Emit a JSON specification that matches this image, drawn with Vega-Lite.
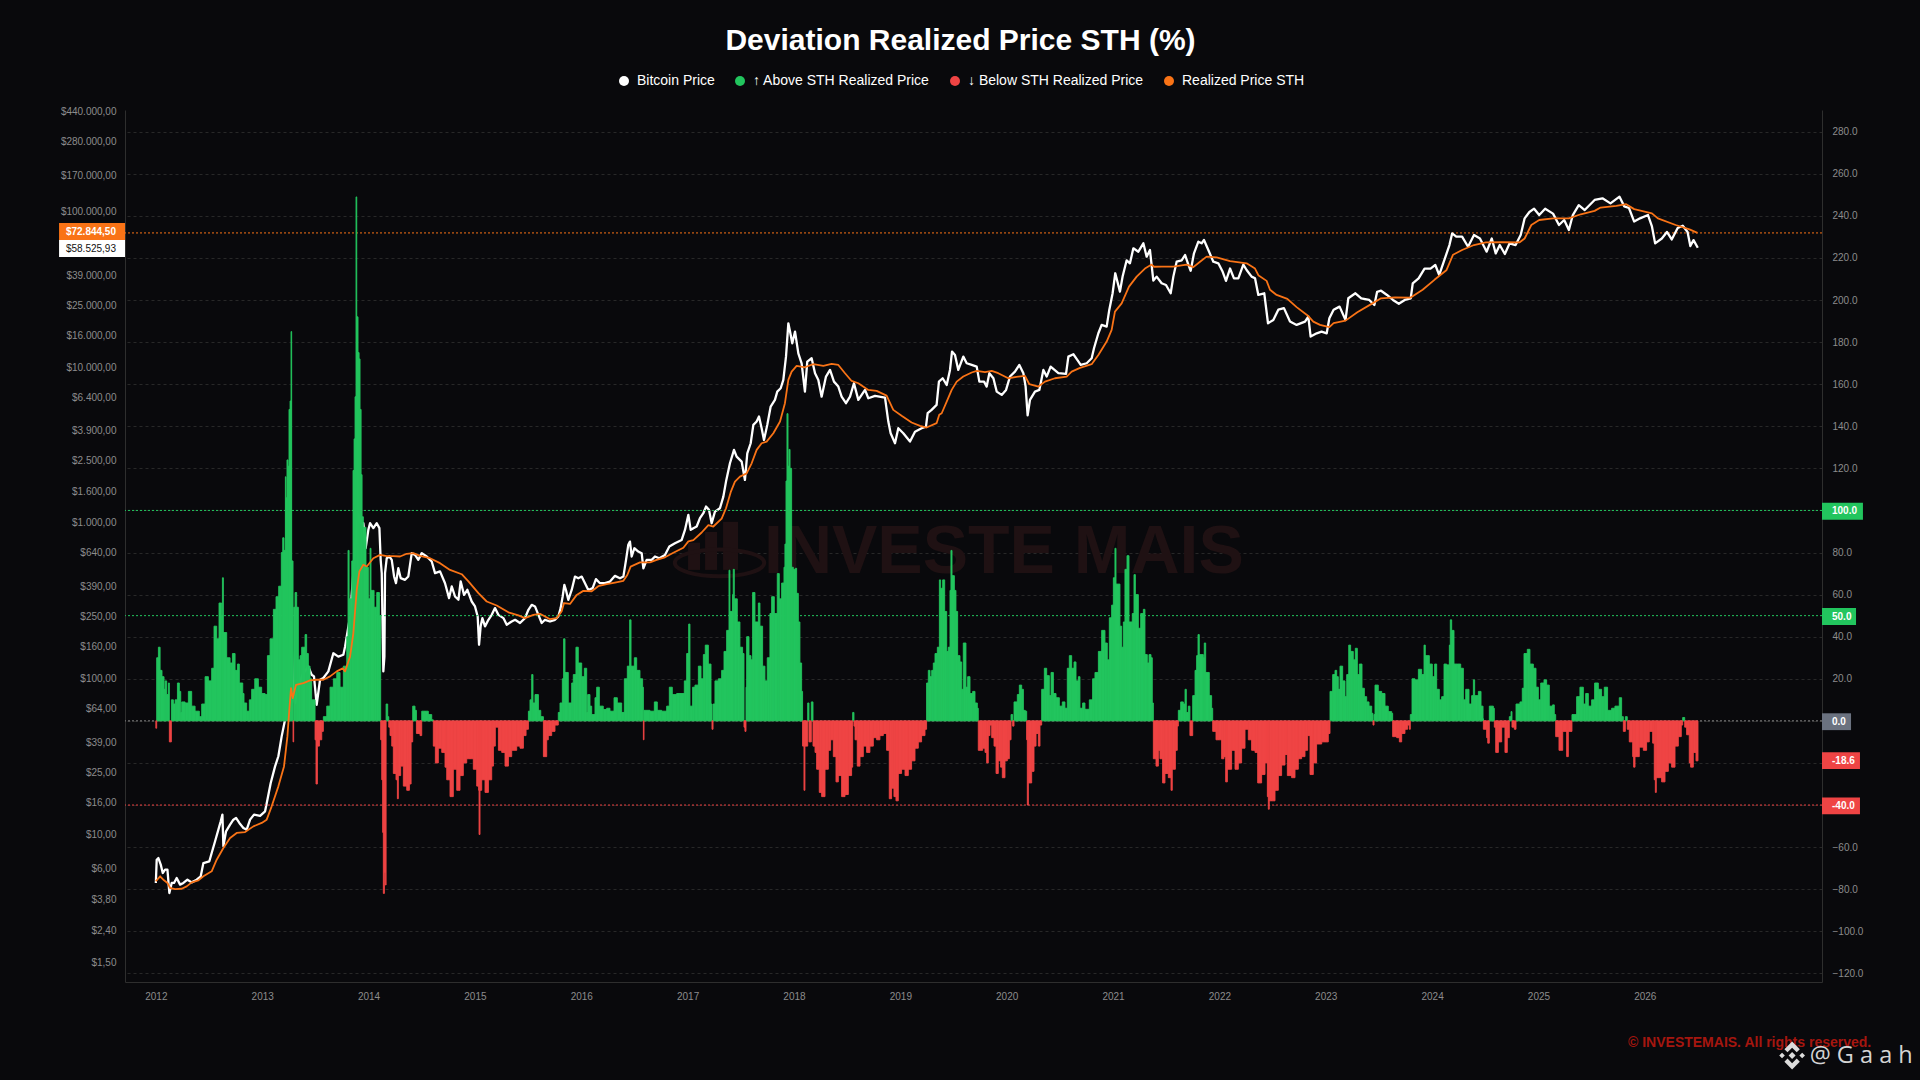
{
"$schema":"https://vega.github.io/schema/vega-lite/v6.json",
"width":1697,"height":872,
"autosize":"none",
"padding":{"left":125,"top":110,"right":98,"bottom":98},
"background":"#09090c",
"title":{"text":"Deviation Realized Price STH (%)","anchor":"middle","dx":-13,"offset":18,"fontSize":30,"font":"Liberation Sans","fontWeight":"bold","color":"#ffffff"},
"config":{
"locale":{"number":{"decimal":",","thousands":".","grouping":[3],"currency":["$",""]}},
"view":{"stroke":null},
"axis":{"labelFont":"Liberation Sans","labelFontSize":10,"labelColor":"#8c8c8c","ticks":false,"title":null,"domainColor":"#2e2e2e","grid":false},
"text":{"font":"Liberation Sans"}
},
"data":{"values":[{}]},
"datasets":{
"hist":[
{"t":2012.000,"dev":-3.5},{"t":2012.008,"dev":30},{"t":2012.024,"dev":35},{"t":2012.040,"dev":24},{"t":2012.058,"dev":21},{"t":2012.077,"dev":15},{"t":2012.087,"dev":19},{"t":2012.102,"dev":12.5},{"t":2012.118,"dev":18},{"t":2012.127,"dev":-10},{"t":2012.146,"dev":10},{"t":2012.165,"dev":8},{"t":2012.181,"dev":10},{"t":2012.203,"dev":18},{"t":2012.221,"dev":14},{"t":2012.234,"dev":4},{"t":2012.243,"dev":9},{"t":2012.275,"dev":8.5},{"t":2012.306,"dev":14},{"t":2012.337,"dev":7},{"t":2012.369,"dev":4.6},{"t":2012.409,"dev":2},{"t":2012.431,"dev":8},{"t":2012.463,"dev":21},{"t":2012.494,"dev":19},{"t":2012.525,"dev":25},{"t":2012.547,"dev":45},{"t":2012.572,"dev":39},{"t":2012.594,"dev":56},{"t":2012.619,"dev":50},{"t":2012.626,"dev":68},{"t":2012.635,"dev":42},{"t":2012.666,"dev":30},{"t":2012.698,"dev":27.5},{"t":2012.720,"dev":32},{"t":2012.745,"dev":24},{"t":2012.767,"dev":27},{"t":2012.785,"dev":18},{"t":2012.817,"dev":13},{"t":2012.829,"dev":8.5},{"t":2012.854,"dev":4.6},{"t":2012.879,"dev":10},{"t":2012.901,"dev":15},{"t":2012.930,"dev":20},{"t":2012.964,"dev":16},{"t":2012.995,"dev":13},
{"t":2013.027,"dev":12.5},{"t":2013.049,"dev":31},{"t":2013.074,"dev":39},{"t":2013.105,"dev":53},{"t":2013.130,"dev":59},{"t":2013.155,"dev":64},{"t":2013.180,"dev":80},{"t":2013.193,"dev":87},{"t":2013.205,"dev":81},{"t":2013.218,"dev":116},{"t":2013.224,"dev":106},{"t":2013.233,"dev":124},{"t":2013.243,"dev":121},{"t":2013.252,"dev":148},{"t":2013.262,"dev":152},{"t":2013.271,"dev":185},{"t":2013.277,"dev":76},{"t":2013.290,"dev":-10},{"t":2013.296,"dev":54},{"t":2013.309,"dev":61},{"t":2013.324,"dev":54},{"t":2013.340,"dev":29},{"t":2013.356,"dev":31},{"t":2013.371,"dev":35},{"t":2013.403,"dev":41},{"t":2013.418,"dev":32},{"t":2013.434,"dev":26},{"t":2013.450,"dev":20},{"t":2013.465,"dev":10},{"t":2013.497,"dev":-9},{"t":2013.506,"dev":-30},{"t":2013.519,"dev":-12},{"t":2013.538,"dev":-9},{"t":2013.560,"dev":-5},{"t":2013.575,"dev":2},{"t":2013.607,"dev":7},{"t":2013.638,"dev":16},{"t":2013.669,"dev":20},{"t":2013.701,"dev":23},{"t":2013.732,"dev":16},{"t":2013.763,"dev":26},{"t":2013.795,"dev":40},{"t":2013.807,"dev":81},{"t":2013.817,"dev":58},{"t":2013.842,"dev":76},{"t":2013.854,"dev":119},{"t":2013.864,"dev":134},{"t":2013.873,"dev":154},{"t":2013.882,"dev":249},{"t":2013.889,"dev":192},{"t":2013.901,"dev":175},{"t":2013.911,"dev":172},{"t":2013.920,"dev":148},{"t":2013.930,"dev":117},{"t":2013.939,"dev":97},{"t":2013.951,"dev":92},{"t":2013.976,"dev":73},{"t":2013.998,"dev":58},
{"t":2014.014,"dev":82},{"t":2014.023,"dev":62},{"t":2014.052,"dev":54},{"t":2014.077,"dev":61},{"t":2014.102,"dev":50},{"t":2014.114,"dev":-9},{"t":2014.124,"dev":-28},{"t":2014.133,"dev":-53},{"t":2014.139,"dev":-82},{"t":2014.149,"dev":-72},{"t":2014.158,"dev":-78},{"t":2014.165,"dev":8},{"t":2014.180,"dev":2},{"t":2014.190,"dev":-3},{"t":2014.202,"dev":-7},{"t":2014.218,"dev":-12},{"t":2014.233,"dev":-25},{"t":2014.258,"dev":-28},{"t":2014.271,"dev":-37},{"t":2014.280,"dev":-26},{"t":2014.302,"dev":-21.5},{"t":2014.327,"dev":-31},{"t":2014.359,"dev":-33},{"t":2014.384,"dev":-30},{"t":2014.400,"dev":-10},{"t":2014.415,"dev":7},{"t":2014.437,"dev":5},{"t":2014.450,"dev":-6},{"t":2014.484,"dev":-7},{"t":2014.500,"dev":4.6},{"t":2014.531,"dev":4.6},{"t":2014.562,"dev":3},{"t":2014.594,"dev":0.5},{"t":2014.609,"dev":-12},{"t":2014.628,"dev":-20},{"t":2014.656,"dev":-13},{"t":2014.688,"dev":-15},{"t":2014.719,"dev":-22},{"t":2014.735,"dev":-28},{"t":2014.766,"dev":-36},{"t":2014.797,"dev":-23},{"t":2014.829,"dev":-33},{"t":2014.860,"dev":-26},{"t":2014.891,"dev":-20},{"t":2014.923,"dev":-18},{"t":2014.954,"dev":-18},{"t":2014.985,"dev":-23},
{"t":2015.017,"dev":-31},{"t":2015.036,"dev":-33},{"t":2015.039,"dev":-54},{"t":2015.048,"dev":-33},{"t":2015.064,"dev":-28},{"t":2015.095,"dev":-34},{"t":2015.127,"dev":-28},{"t":2015.158,"dev":-21.5},{"t":2015.174,"dev":-12},{"t":2015.192,"dev":-3},{"t":2015.221,"dev":-14},{"t":2015.252,"dev":-15},{"t":2015.283,"dev":-21.5},{"t":2015.315,"dev":-17},{"t":2015.346,"dev":-14},{"t":2015.393,"dev":-12},{"t":2015.424,"dev":-13},{"t":2015.456,"dev":-7},{"t":2015.481,"dev":-4},{"t":2015.503,"dev":4.6},{"t":2015.518,"dev":10},{"t":2015.534,"dev":22},{"t":2015.546,"dev":8.5},{"t":2015.565,"dev":12.5},{"t":2015.597,"dev":5},{"t":2015.619,"dev":2},{"t":2015.644,"dev":-17},{"t":2015.675,"dev":-9},{"t":2015.690,"dev":-7},{"t":2015.722,"dev":-5},{"t":2015.753,"dev":-2},{"t":2015.784,"dev":4},{"t":2015.800,"dev":8.5},{"t":2015.822,"dev":20},{"t":2015.834,"dev":39},{"t":2015.847,"dev":23},{"t":2015.878,"dev":8.5},{"t":2015.910,"dev":18},{"t":2015.925,"dev":22},{"t":2015.950,"dev":35},{"t":2015.972,"dev":27.5},
{"t":2016.004,"dev":21},{"t":2016.029,"dev":25},{"t":2016.051,"dev":4},{"t":2016.060,"dev":12.5},{"t":2016.082,"dev":7},{"t":2016.098,"dev":3},{"t":2016.129,"dev":11},{"t":2016.145,"dev":16},{"t":2016.170,"dev":7},{"t":2016.207,"dev":5.4},{"t":2016.239,"dev":6},{"t":2016.270,"dev":4.6},{"t":2016.308,"dev":11},{"t":2016.339,"dev":8.5},{"t":2016.380,"dev":4},{"t":2016.405,"dev":20},{"t":2016.433,"dev":26},{"t":2016.455,"dev":48},{"t":2016.468,"dev":26},{"t":2016.499,"dev":30},{"t":2016.521,"dev":24},{"t":2016.552,"dev":20},{"t":2016.577,"dev":16},{"t":2016.584,"dev":-9},{"t":2016.590,"dev":5},{"t":2016.646,"dev":4.6},{"t":2016.687,"dev":9},{"t":2016.715,"dev":5},{"t":2016.756,"dev":4.6},{"t":2016.803,"dev":7},{"t":2016.828,"dev":16},{"t":2016.856,"dev":12.5},{"t":2016.897,"dev":13},{"t":2016.928,"dev":13},{"t":2016.969,"dev":19},{"t":2016.991,"dev":32},
{"t":2017.010,"dev":46},{"t":2017.022,"dev":7},{"t":2017.047,"dev":16},{"t":2017.069,"dev":17},{"t":2017.101,"dev":26},{"t":2017.126,"dev":20},{"t":2017.148,"dev":31.5},{"t":2017.166,"dev":36},{"t":2017.195,"dev":27},{"t":2017.220,"dev":8},{"t":2017.229,"dev":-4},{"t":2017.239,"dev":8},{"t":2017.257,"dev":19},{"t":2017.289,"dev":20},{"t":2017.320,"dev":24},{"t":2017.342,"dev":33},{"t":2017.367,"dev":43},{"t":2017.389,"dev":71.6},{"t":2017.398,"dev":52},{"t":2017.423,"dev":60},{"t":2017.429,"dev":72},{"t":2017.439,"dev":58},{"t":2017.467,"dev":47},{"t":2017.492,"dev":35},{"t":2017.517,"dev":32},{"t":2017.530,"dev":-3},{"t":2017.539,"dev":-5},{"t":2017.549,"dev":16},{"t":2017.555,"dev":40},{"t":2017.577,"dev":31},{"t":2017.596,"dev":29},{"t":2017.611,"dev":61},{"t":2017.633,"dev":47},{"t":2017.665,"dev":56},{"t":2017.680,"dev":45},{"t":2017.705,"dev":26},{"t":2017.727,"dev":19},{"t":2017.749,"dev":30},{"t":2017.774,"dev":51},{"t":2017.790,"dev":59},{"t":2017.815,"dev":51},{"t":2017.843,"dev":70},{"t":2017.862,"dev":58},{"t":2017.884,"dev":65.5},{"t":2017.906,"dev":73},{"t":2017.915,"dev":84},{"t":2017.925,"dev":114},{"t":2017.934,"dev":146},{"t":2017.944,"dev":121},{"t":2017.953,"dev":129},{"t":2017.963,"dev":120},{"t":2017.978,"dev":73},{"t":2017.994,"dev":72},
{"t":2018.013,"dev":72.5},{"t":2018.025,"dev":60.6},{"t":2018.041,"dev":47},{"t":2018.056,"dev":27.5},{"t":2018.072,"dev":14},{"t":2018.081,"dev":-12},{"t":2018.094,"dev":-33},{"t":2018.103,"dev":-12},{"t":2018.129,"dev":8.5},{"t":2018.141,"dev":-10},{"t":2018.163,"dev":9},{"t":2018.179,"dev":-12},{"t":2018.198,"dev":-15},{"t":2018.213,"dev":-23},{"t":2018.238,"dev":-34},{"t":2018.260,"dev":-36},{"t":2018.292,"dev":-23},{"t":2018.323,"dev":-14},{"t":2018.345,"dev":-9},{"t":2018.370,"dev":-17},{"t":2018.395,"dev":-29},{"t":2018.417,"dev":-26},{"t":2018.448,"dev":-36},{"t":2018.480,"dev":-35},{"t":2018.511,"dev":-26},{"t":2018.542,"dev":-22},{"t":2018.552,"dev":4},{"t":2018.564,"dev":-2.5},{"t":2018.574,"dev":-9},{"t":2018.595,"dev":-21.5},{"t":2018.621,"dev":-17},{"t":2018.652,"dev":-12},{"t":2018.683,"dev":-15},{"t":2018.714,"dev":-12},{"t":2018.746,"dev":-8},{"t":2018.777,"dev":-9},{"t":2018.808,"dev":-7},{"t":2018.840,"dev":-6},{"t":2018.871,"dev":-14},{"t":2018.896,"dev":-37},{"t":2018.918,"dev":-32},{"t":2018.940,"dev":-36},{"t":2018.959,"dev":-38},{"t":2018.981,"dev":-25},
{"t":2019.012,"dev":-23},{"t":2019.044,"dev":-26},{"t":2019.075,"dev":-23},{"t":2019.106,"dev":-19},{"t":2019.138,"dev":-13},{"t":2019.169,"dev":-10},{"t":2019.200,"dev":-7},{"t":2019.232,"dev":-4},{"t":2019.247,"dev":18},{"t":2019.263,"dev":24},{"t":2019.279,"dev":21},{"t":2019.295,"dev":24},{"t":2019.310,"dev":27.5},{"t":2019.326,"dev":32},{"t":2019.348,"dev":35},{"t":2019.367,"dev":67},{"t":2019.379,"dev":63},{"t":2019.398,"dev":67},{"t":2019.417,"dev":52},{"t":2019.436,"dev":33},{"t":2019.451,"dev":35},{"t":2019.467,"dev":62},{"t":2019.476,"dev":81},{"t":2019.486,"dev":69},{"t":2019.508,"dev":62},{"t":2019.523,"dev":52},{"t":2019.539,"dev":31},{"t":2019.561,"dev":28},{"t":2019.577,"dev":15},{"t":2019.592,"dev":37},{"t":2019.617,"dev":16},{"t":2019.633,"dev":21},{"t":2019.655,"dev":13},{"t":2019.680,"dev":14},{"t":2019.702,"dev":8.5},{"t":2019.724,"dev":6},{"t":2019.733,"dev":-14},{"t":2019.774,"dev":-13},{"t":2019.796,"dev":-15},{"t":2019.812,"dev":-20},{"t":2019.827,"dev":-7},{"t":2019.843,"dev":-2},{"t":2019.859,"dev":-8},{"t":2019.881,"dev":-12},{"t":2019.900,"dev":-25},{"t":2019.921,"dev":-19},{"t":2019.943,"dev":-22},{"t":2019.959,"dev":-27},{"t":2019.984,"dev":-19},
{"t":2020.006,"dev":-18},{"t":2020.025,"dev":-9},{"t":2020.041,"dev":3},{"t":2020.056,"dev":-2.5},{"t":2020.069,"dev":9},{"t":2020.100,"dev":12.5},{"t":2020.119,"dev":17},{"t":2020.141,"dev":15},{"t":2020.157,"dev":5},{"t":2020.175,"dev":4.6},{"t":2020.188,"dev":-9},{"t":2020.194,"dev":-40},{"t":2020.204,"dev":-29.5},{"t":2020.235,"dev":-24},{"t":2020.257,"dev":-12},{"t":2020.276,"dev":-6},{"t":2020.298,"dev":-12},{"t":2020.313,"dev":-2},{"t":2020.329,"dev":15},{"t":2020.354,"dev":25},{"t":2020.376,"dev":21.5},{"t":2020.401,"dev":12},{"t":2020.417,"dev":23},{"t":2020.439,"dev":13},{"t":2020.464,"dev":11},{"t":2020.495,"dev":7},{"t":2020.523,"dev":9},{"t":2020.548,"dev":6},{"t":2020.570,"dev":25},{"t":2020.589,"dev":31},{"t":2020.611,"dev":25},{"t":2020.633,"dev":28},{"t":2020.652,"dev":19},{"t":2020.674,"dev":21},{"t":2020.689,"dev":6},{"t":2020.714,"dev":8.5},{"t":2020.736,"dev":5.5},{"t":2020.777,"dev":10},{"t":2020.808,"dev":20},{"t":2020.830,"dev":23},{"t":2020.862,"dev":33},{"t":2020.893,"dev":43},{"t":2020.924,"dev":37},{"t":2020.946,"dev":29},{"t":2020.965,"dev":49},{"t":2020.987,"dev":55},
{"t":2021.003,"dev":68},{"t":2021.018,"dev":82},{"t":2021.028,"dev":65},{"t":2021.065,"dev":45},{"t":2021.081,"dev":35},{"t":2021.097,"dev":47},{"t":2021.112,"dev":72},{"t":2021.131,"dev":78.5},{"t":2021.150,"dev":47},{"t":2021.181,"dev":51},{"t":2021.197,"dev":69.5},{"t":2021.210,"dev":60},{"t":2021.238,"dev":44},{"t":2021.260,"dev":51},{"t":2021.285,"dev":53},{"t":2021.300,"dev":31.5},{"t":2021.322,"dev":27.5},{"t":2021.338,"dev":31.5},{"t":2021.357,"dev":30},{"t":2021.369,"dev":8.5},{"t":2021.379,"dev":-18},{"t":2021.404,"dev":-21.5},{"t":2021.426,"dev":-14},{"t":2021.441,"dev":-18},{"t":2021.466,"dev":-29.5},{"t":2021.488,"dev":-25},{"t":2021.520,"dev":-27},{"t":2021.545,"dev":-33},{"t":2021.557,"dev":-23},{"t":2021.586,"dev":-14},{"t":2021.604,"dev":-2.5},{"t":2021.614,"dev":5},{"t":2021.636,"dev":9},{"t":2021.661,"dev":8},{"t":2021.677,"dev":15},{"t":2021.689,"dev":4},{"t":2021.708,"dev":7},{"t":2021.723,"dev":-7},{"t":2021.749,"dev":12},{"t":2021.771,"dev":24},{"t":2021.786,"dev":31},{"t":2021.799,"dev":41},{"t":2021.811,"dev":31.5},{"t":2021.849,"dev":30},{"t":2021.858,"dev":37},{"t":2021.871,"dev":23},{"t":2021.905,"dev":12},{"t":2021.927,"dev":6},{"t":2021.937,"dev":-5},{"t":2021.968,"dev":-9},{"t":2021.990,"dev":-9},
{"t":2022.021,"dev":-18},{"t":2022.043,"dev":-17},{"t":2022.059,"dev":-29},{"t":2022.075,"dev":-23},{"t":2022.115,"dev":-14},{"t":2022.147,"dev":-23},{"t":2022.178,"dev":-20},{"t":2022.209,"dev":-13},{"t":2022.241,"dev":-4},{"t":2022.272,"dev":-9},{"t":2022.303,"dev":-14},{"t":2022.335,"dev":-15},{"t":2022.360,"dev":-29.5},{"t":2022.397,"dev":-25.5},{"t":2022.429,"dev":-20},{"t":2022.451,"dev":-36},{"t":2022.460,"dev":-42},{"t":2022.469,"dev":-38},{"t":2022.491,"dev":-38},{"t":2022.523,"dev":-33},{"t":2022.554,"dev":-26},{"t":2022.585,"dev":-21},{"t":2022.617,"dev":-16},{"t":2022.639,"dev":-26},{"t":2022.679,"dev":-27},{"t":2022.711,"dev":-23},{"t":2022.742,"dev":-18},{"t":2022.773,"dev":-17},{"t":2022.805,"dev":-14},{"t":2022.830,"dev":-7},{"t":2022.852,"dev":-25.5},{"t":2022.883,"dev":-20},{"t":2022.914,"dev":-11},{"t":2022.962,"dev":-10},{"t":2022.993,"dev":-10},
{"t":2023.024,"dev":-6},{"t":2023.040,"dev":14},{"t":2023.065,"dev":22},{"t":2023.087,"dev":24},{"t":2023.103,"dev":21},{"t":2023.118,"dev":15},{"t":2023.134,"dev":26},{"t":2023.159,"dev":19},{"t":2023.181,"dev":11.5},{"t":2023.197,"dev":22},{"t":2023.216,"dev":36},{"t":2023.234,"dev":33},{"t":2023.259,"dev":29},{"t":2023.278,"dev":34.5},{"t":2023.297,"dev":22},{"t":2023.316,"dev":27},{"t":2023.341,"dev":15.5},{"t":2023.363,"dev":11.5},{"t":2023.385,"dev":9},{"t":2023.407,"dev":7},{"t":2023.432,"dev":3.6},{"t":2023.444,"dev":-2},{"t":2023.454,"dev":3},{"t":2023.463,"dev":17},{"t":2023.494,"dev":14},{"t":2023.526,"dev":13},{"t":2023.557,"dev":7},{"t":2023.588,"dev":4.4},{"t":2023.620,"dev":3.6},{"t":2023.629,"dev":-7.5},{"t":2023.667,"dev":-8},{"t":2023.692,"dev":-10},{"t":2023.714,"dev":-6},{"t":2023.745,"dev":-4},{"t":2023.770,"dev":-2},{"t":2023.786,"dev":-4},{"t":2023.795,"dev":3},{"t":2023.811,"dev":20},{"t":2023.839,"dev":19.5},{"t":2023.871,"dev":24.5},{"t":2023.902,"dev":22},{"t":2023.924,"dev":36},{"t":2023.936,"dev":31},{"t":2023.974,"dev":27},
{"t":2024.002,"dev":21},{"t":2024.024,"dev":27},{"t":2024.043,"dev":15},{"t":2024.068,"dev":10},{"t":2024.090,"dev":11.5},{"t":2024.112,"dev":27},{"t":2024.137,"dev":26.6},{"t":2024.162,"dev":36},{"t":2024.171,"dev":48},{"t":2024.184,"dev":43},{"t":2024.206,"dev":27},{"t":2024.237,"dev":27},{"t":2024.269,"dev":25},{"t":2024.294,"dev":10},{"t":2024.316,"dev":15},{"t":2024.347,"dev":8},{"t":2024.372,"dev":12},{"t":2024.388,"dev":19.5},{"t":2024.400,"dev":12},{"t":2024.435,"dev":14},{"t":2024.460,"dev":7},{"t":2024.479,"dev":1},{"t":2024.482,"dev":-4},{"t":2024.513,"dev":-8},{"t":2024.523,"dev":-10.6},{"t":2024.538,"dev":7},{"t":2024.576,"dev":6},{"t":2024.585,"dev":-3},{"t":2024.598,"dev":-15},{"t":2024.623,"dev":-10},{"t":2024.654,"dev":-3},{"t":2024.685,"dev":-15},{"t":2024.707,"dev":-8},{"t":2024.726,"dev":2},{"t":2024.742,"dev":4.4},{"t":2024.751,"dev":-3},{"t":2024.773,"dev":-4},{"t":2024.789,"dev":8},{"t":2024.826,"dev":9},{"t":2024.848,"dev":15.5},{"t":2024.864,"dev":32},{"t":2024.895,"dev":34},{"t":2024.920,"dev":27},{"t":2024.952,"dev":25},{"t":2024.977,"dev":16},{"t":2024.999,"dev":10},
{"t":2025.021,"dev":18},{"t":2025.052,"dev":19.5},{"t":2025.077,"dev":17},{"t":2025.102,"dev":7},{"t":2025.133,"dev":7.6},{"t":2025.149,"dev":3},{"t":2025.162,"dev":-7.5},{"t":2025.193,"dev":-14},{"t":2025.228,"dev":-5},{"t":2025.265,"dev":-17},{"t":2025.281,"dev":-5},{"t":2025.303,"dev":-5},{"t":2025.315,"dev":3},{"t":2025.359,"dev":11.5},{"t":2025.390,"dev":16},{"t":2025.422,"dev":8},{"t":2025.444,"dev":13},{"t":2025.469,"dev":7},{"t":2025.500,"dev":10},{"t":2025.528,"dev":18},{"t":2025.563,"dev":15},{"t":2025.594,"dev":11.5},{"t":2025.619,"dev":16},{"t":2025.650,"dev":5},{"t":2025.688,"dev":6},{"t":2025.719,"dev":7},{"t":2025.760,"dev":11},{"t":2025.782,"dev":2},{"t":2025.798,"dev":-5},{"t":2025.817,"dev":2},{"t":2025.835,"dev":-4},{"t":2025.854,"dev":-10},{"t":2025.886,"dev":-17},{"t":2025.895,"dev":-22},{"t":2025.908,"dev":-17},{"t":2025.948,"dev":-12.5},{"t":2025.986,"dev":-14},
{"t":2026.017,"dev":-10},{"t":2026.042,"dev":-5},{"t":2026.074,"dev":-10.6},{"t":2026.089,"dev":-28},{"t":2026.099,"dev":-34},{"t":2026.108,"dev":-27},{"t":2026.158,"dev":-29},{"t":2026.190,"dev":-24},{"t":2026.221,"dev":-20},{"t":2026.252,"dev":-22},{"t":2026.284,"dev":-12},{"t":2026.315,"dev":-7.5},{"t":2026.343,"dev":-2},{"t":2026.356,"dev":1.6},{"t":2026.375,"dev":-3},{"t":2026.393,"dev":-6.6},{"t":2026.418,"dev":-20},{"t":2026.431,"dev":-22},{"t":2026.456,"dev":-15},{"t":2026.481,"dev":-19},{"t":2026.500,"dev":-18.6}
],
"btc":[
{"t":2012.000,"price":4.85},{"t":2012.008,"price":6.84},{"t":2012.024,"price":7.01},{"t":2012.046,"price":6.36},{"t":2012.065,"price":5.62},{"t":2012.087,"price":5.9},{"t":2012.109,"price":5.9},{"t":2012.127,"price":4.18},{"t":2012.149,"price":4.85},{"t":2012.171,"price":4.85},{"t":2012.196,"price":5.22},{"t":2012.228,"price":4.73},{"t":2012.259,"price":4.85},{"t":2012.297,"price":5.09},{"t":2012.337,"price":4.89},{"t":2012.384,"price":5.09},{"t":2012.422,"price":5.35},{"t":2012.447,"price":6.51},{"t":2012.503,"price":6.68},{"t":2012.525,"price":7.55},{"t":2012.557,"price":8.98},{"t":2012.588,"price":10.67},{"t":2012.610,"price":12.07},{"t":2012.626,"price":13.32},{"t":2012.635,"price":8.34},{"t":2012.660,"price":10.41},{"t":2012.698,"price":11.49},{"t":2012.729,"price":12.37},{"t":2012.754,"price":12.68},{"t":2012.785,"price":11.78},{"t":2012.823,"price":10.94},{"t":2012.854,"price":10.67},{"t":2012.886,"price":12.37},{"t":2012.923,"price":13.32},{"t":2012.980,"price":13.1},
{"t":2013.027,"price":14},{"t":2013.049,"price":16.63},{"t":2013.080,"price":21.28},{"t":2013.121,"price":27.2},{"t":2013.152,"price":31.6},{"t":2013.183,"price":42.4},{"t":2013.215,"price":54.3},{"t":2013.237,"price":84.6},{"t":2013.255,"price":138},{"t":2013.271,"price":230},{"t":2013.287,"price":98},{"t":2013.309,"price":69.4},{"t":2013.340,"price":88.8},{"t":2013.387,"price":108},{"t":2013.434,"price":119},{"t":2013.465,"price":105.6},{"t":2013.487,"price":103},{"t":2013.512,"price":67.7},{"t":2013.544,"price":98},{"t":2013.575,"price":100.5},{"t":2013.622,"price":110.9},{"t":2013.669,"price":145},{"t":2013.716,"price":138},{"t":2013.763,"price":141.8},{"t":2013.779,"price":160},{"t":2013.795,"price":186},{"t":2013.826,"price":250},{"t":2013.857,"price":475},{"t":2013.889,"price":946},{"t":2013.904,"price":1125},{"t":2013.926,"price":994},{"t":2013.951,"price":994},{"t":2013.973,"price":687},{"t":2013.998,"price":901},
{"t":2014.014,"price":994},{"t":2014.045,"price":924},{"t":2014.077,"price":994},{"t":2014.102,"price":924},{"t":2014.114,"price":578},{"t":2014.124,"price":475},{"t":2014.139,"price":110.9},{"t":2014.149,"price":138},{"t":2014.155,"price":475},{"t":2014.171,"price":592},{"t":2014.196,"price":607},{"t":2014.218,"price":578},{"t":2014.240,"price":452},{"t":2014.258,"price":409},{"t":2014.280,"price":511},{"t":2014.302,"price":441},{"t":2014.343,"price":430},{"t":2014.374,"price":452},{"t":2014.406,"price":638},{"t":2014.437,"price":622},{"t":2014.468,"price":578},{"t":2014.500,"price":638},{"t":2014.547,"price":607},{"t":2014.594,"price":564},{"t":2014.625,"price":475},{"t":2014.672,"price":487},{"t":2014.719,"price":409},{"t":2014.757,"price":328},{"t":2014.782,"price":390},{"t":2014.813,"price":336},{"t":2014.845,"price":320},{"t":2014.866,"price":420},{"t":2014.898,"price":344},{"t":2014.929,"price":371},{"t":2014.970,"price":312},
{"t":2015.001,"price":290},{"t":2015.026,"price":250},{"t":2015.039,"price":164.5},{"t":2015.054,"price":216},{"t":2015.070,"price":244},{"t":2015.095,"price":216},{"t":2015.127,"price":238},{"t":2015.158,"price":256},{"t":2015.189,"price":283},{"t":2015.221,"price":256},{"t":2015.268,"price":244},{"t":2015.299,"price":221},{"t":2015.346,"price":232},{"t":2015.378,"price":238},{"t":2015.424,"price":227},{"t":2015.471,"price":244},{"t":2015.503,"price":276},{"t":2015.534,"price":297},{"t":2015.565,"price":290},{"t":2015.597,"price":256},{"t":2015.628,"price":227},{"t":2015.659,"price":238},{"t":2015.706,"price":232},{"t":2015.753,"price":238},{"t":2015.784,"price":250},{"t":2015.806,"price":283},{"t":2015.825,"price":336},{"t":2015.841,"price":399},{"t":2015.856,"price":370},{"t":2015.878,"price":320},{"t":2015.910,"price":370},{"t":2015.941,"price":451},{"t":2015.972,"price":440},
{"t":2016.004,"price":451},{"t":2016.035,"price":409},{"t":2016.066,"price":370},{"t":2016.107,"price":380},{"t":2016.138,"price":434},{"t":2016.176,"price":409},{"t":2016.223,"price":409},{"t":2016.270,"price":419},{"t":2016.317,"price":456},{"t":2016.364,"price":440},{"t":2016.396,"price":451},{"t":2016.421,"price":578},{"t":2016.442,"price":721},{"t":2016.458,"price":757},{"t":2016.474,"price":607},{"t":2016.499,"price":686},{"t":2016.536,"price":653},{"t":2016.568,"price":637},{"t":2016.584,"price":510},{"t":2016.615,"price":578},{"t":2016.662,"price":578},{"t":2016.693,"price":607},{"t":2016.734,"price":592},{"t":2016.787,"price":621},{"t":2016.828,"price":703},{"t":2016.881,"price":739},{"t":2016.944,"price":776},{"t":2016.975,"price":900},
{"t":2017.007,"price":1124},{"t":2017.029,"price":900},{"t":2017.054,"price":923},{"t":2017.085,"price":946},{"t":2017.116,"price":1070},{"t":2017.148,"price":1152},{"t":2017.173,"price":1271},{"t":2017.201,"price":1210},{"t":2017.226,"price":993},{"t":2017.257,"price":1180},{"t":2017.304,"price":1240},{"t":2017.336,"price":1473},{"t":2017.361,"price":1839},{"t":2017.398,"price":2411},{"t":2017.436,"price":2939},{"t":2017.461,"price":2662},{"t":2017.508,"price":2472},{"t":2017.539,"price":1885},{"t":2017.561,"price":2796},{"t":2017.593,"price":3243},{"t":2017.618,"price":4256},{"t":2017.649,"price":4471},{"t":2017.671,"price":4815},{"t":2017.696,"price":4051},{"t":2017.718,"price":3407},{"t":2017.749,"price":4256},{"t":2017.781,"price":5582},{"t":2017.821,"price":6160},{"t":2017.843,"price":6964},{"t":2017.875,"price":7316},{"t":2017.900,"price":8276},{"t":2017.925,"price":11680},{"t":2017.947,"price":19130},{"t":2017.963,"price":16920},{"t":2017.984,"price":14230},
{"t":2018.010,"price":16920},{"t":2018.041,"price":12270},{"t":2018.072,"price":10590},{"t":2018.103,"price":6964},{"t":2018.125,"price":10860},{"t":2018.166,"price":11400},{"t":2018.198,"price":9134},{"t":2018.229,"price":8276},{"t":2018.260,"price":6460},{"t":2018.301,"price":8694},{"t":2018.339,"price":9595},{"t":2018.376,"price":8070},{"t":2018.417,"price":7498},{"t":2018.448,"price":6470},{"t":2018.489,"price":5864},{"t":2018.527,"price":6470},{"t":2018.564,"price":7878},{"t":2018.605,"price":6160},{"t":2018.668,"price":7140},{"t":2018.699,"price":6310},{"t":2018.762,"price":6530},{"t":2018.856,"price":6370},{"t":2018.887,"price":4471},{"t":2018.909,"price":3760},{"t":2018.950,"price":3243},{"t":2018.981,"price":4051},
{"t":2019.028,"price":3760},{"t":2019.091,"price":3324},{"t":2019.138,"price":3850},{"t":2019.200,"price":4051},{"t":2019.241,"price":4150},{"t":2019.257,"price":5057},{"t":2019.294,"price":5313},{"t":2019.341,"price":5720},{"t":2019.363,"price":8070},{"t":2019.398,"price":8484},{"t":2019.436,"price":7686},{"t":2019.467,"price":9598},{"t":2019.486,"price":12590},{"t":2019.514,"price":11980},{"t":2019.545,"price":9598},{"t":2019.592,"price":11690},{"t":2019.624,"price":10590},{"t":2019.671,"price":10340},{"t":2019.718,"price":10080},{"t":2019.743,"price":8070},{"t":2019.787,"price":8070},{"t":2019.812,"price":7500},{"t":2019.837,"price":9140},{"t":2019.875,"price":8484},{"t":2019.906,"price":6965},{"t":2019.953,"price":6630},{"t":2019.994,"price":7140},
{"t":2020.031,"price":8700},{"t":2020.078,"price":9360},{"t":2020.119,"price":10340},{"t":2020.157,"price":9140},{"t":2020.178,"price":7500},{"t":2020.197,"price":4900},{"t":2020.219,"price":6160},{"t":2020.266,"price":6965},{"t":2020.307,"price":7140},{"t":2020.345,"price":9598},{"t":2020.376,"price":8700},{"t":2020.413,"price":10080},{"t":2020.486,"price":9140},{"t":2020.558,"price":9050},{"t":2020.580,"price":11690},{"t":2020.627,"price":12100},{"t":2020.664,"price":11130},{"t":2020.696,"price":10340},{"t":2020.752,"price":10590},{"t":2020.799,"price":11400},{"t":2020.821,"price":13230},{"t":2020.862,"price":16500},{"t":2020.893,"price":18680},{"t":2020.940,"price":18200},{"t":2020.965,"price":23400},{"t":2020.996,"price":29830},
{"t":2021.021,"price":40100},{"t":2021.065,"price":30570},{"t":2021.090,"price":38200},{"t":2021.128,"price":48570},{"t":2021.159,"price":46480},{"t":2021.191,"price":58020},{"t":2021.238,"price":55190},{"t":2021.285,"price":62480},{"t":2021.316,"price":51300},{"t":2021.347,"price":56620},{"t":2021.379,"price":36000},{"t":2021.410,"price":38160},{"t":2021.457,"price":34600},{"t":2021.498,"price":33730},{"t":2021.542,"price":29830},{"t":2021.567,"price":38160},{"t":2021.598,"price":47600},{"t":2021.645,"price":48570},{"t":2021.677,"price":52550},{"t":2021.708,"price":45600},{"t":2021.730,"price":41600},{"t":2021.761,"price":53890},{"t":2021.802,"price":64000},{"t":2021.833,"price":62480},{"t":2021.855,"price":65640},{"t":2021.896,"price":56620},{"t":2021.943,"price":47600},{"t":2021.990,"price":46480},
{"t":2022.031,"price":41000},{"t":2022.062,"price":35830},{"t":2022.100,"price":43000},{"t":2022.137,"price":37200},{"t":2022.178,"price":37200},{"t":2022.225,"price":45600},{"t":2022.256,"price":42100},{"t":2022.303,"price":38160},{"t":2022.335,"price":37200},{"t":2022.366,"price":29100},{"t":2022.422,"price":29830},{"t":2022.457,"price":19140},{"t":2022.507,"price":20110},{"t":2022.554,"price":23400},{"t":2022.607,"price":23950},{"t":2022.664,"price":19620},{"t":2022.695,"price":19140},{"t":2022.726,"price":18680},{"t":2022.805,"price":19620},{"t":2022.836,"price":21140},{"t":2022.858,"price":15720},{"t":2022.915,"price":16500},{"t":2022.961,"price":16900},
{"t":2023.009,"price":16500},{"t":2023.034,"price":20610},{"t":2023.074,"price":23340},{"t":2023.130,"price":24480},{"t":2023.186,"price":20100},{"t":2023.212,"price":27700},{"t":2023.279,"price":29820},{"t":2023.334,"price":27700},{"t":2023.409,"price":27020},{"t":2023.457,"price":25080},{"t":2023.483,"price":30500},{"t":2023.520,"price":30980},{"t":2023.576,"price":29100},{"t":2023.632,"price":27020},{"t":2023.687,"price":25520},{"t":2023.743,"price":27020},{"t":2023.799,"price":27700},{"t":2023.818,"price":34570},{"t":2023.873,"price":37170},{"t":2023.929,"price":43000},{"t":2023.985,"price":43000},
{"t":2024.030,"price":45300},{"t":2024.067,"price":39100},{"t":2024.126,"price":51300},{"t":2024.163,"price":60900},{"t":2024.189,"price":72400},{"t":2024.227,"price":68900},{"t":2024.282,"price":68900},{"t":2024.338,"price":59400},{"t":2024.394,"price":70700},{"t":2024.450,"price":67100},{"t":2024.513,"price":55200},{"t":2024.561,"price":67100},{"t":2024.598,"price":53800},{"t":2024.636,"price":60900},{"t":2024.684,"price":53300},{"t":2024.729,"price":62500},{"t":2024.785,"price":60900},{"t":2024.833,"price":70700},{"t":2024.870,"price":90400},{"t":2024.915,"price":99300},{"t":2024.959,"price":104300},
{"t":2025.007,"price":94900},{"t":2025.063,"price":104300},{"t":2025.137,"price":96900},{"t":2025.193,"price":81900},{"t":2025.242,"price":88200},{"t":2025.286,"price":76100},{"t":2025.323,"price":94900},{"t":2025.379,"price":109900},{"t":2025.435,"price":102200},{"t":2025.528,"price":118600},{"t":2025.602,"price":121500},{"t":2025.677,"price":112800},{"t":2025.762,"price":124500},{"t":2025.807,"price":107900},{"t":2025.851,"price":105300},{"t":2025.900,"price":86200},{"t":2025.955,"price":90400},
{"t":2026.030,"price":94900},{"t":2026.067,"price":80200},{"t":2026.097,"price":62400},{"t":2026.160,"price":67100},{"t":2026.208,"price":73900},{"t":2026.253,"price":66100},{"t":2026.309,"price":78300},{"t":2026.357,"price":81000},{"t":2026.402,"price":73900},{"t":2026.428,"price":60000},{"t":2026.458,"price":65500},{"t":2026.498,"price":58525.93}
],
"realized":[
{"t":2012.000,"price":4.97},{"t":2012.040,"price":5.35},{"t":2012.077,"price":5.04},{"t":2012.109,"price":4.85},{"t":2012.134,"price":4.5},{"t":2012.181,"price":4.43},{"t":2012.243,"price":4.45},{"t":2012.290,"price":4.61},{"t":2012.337,"price":4.89},{"t":2012.400,"price":5.04},{"t":2012.447,"price":5.35},{"t":2012.525,"price":5.76},{"t":2012.572,"price":6.84},{"t":2012.635,"price":8.13},{"t":2012.698,"price":9.42},{"t":2012.760,"price":10.16},{"t":2012.839,"price":10.3},{"t":2012.917,"price":11.2},{"t":2012.995,"price":11.78},
{"t":2013.042,"price":12.37},{"t":2013.089,"price":15.07},{"t":2013.152,"price":20.25},{"t":2013.205,"price":27.2},{"t":2013.237,"price":42.4},{"t":2013.255,"price":62.9},{"t":2013.271,"price":86.7},{"t":2013.287,"price":74.8},{"t":2013.318,"price":91},{"t":2013.387,"price":93.3},{"t":2013.450,"price":97},{"t":2013.512,"price":98},{"t":2013.575,"price":98},{"t":2013.638,"price":103},{"t":2013.701,"price":111},{"t":2013.757,"price":116},{"t":2013.779,"price":111},{"t":2013.826,"price":138},{"t":2013.857,"price":195},{"t":2013.889,"price":371},{"t":2013.914,"price":487},{"t":2013.951,"price":537},{"t":2013.983,"price":524},
{"t":2014.045,"price":592},{"t":2014.108,"price":622},{"t":2014.171,"price":610},{"t":2014.233,"price":610},{"t":2014.296,"price":607},{"t":2014.359,"price":632},{"t":2014.421,"price":638},{"t":2014.484,"price":613},{"t":2014.578,"price":592},{"t":2014.672,"price":550},{"t":2014.766,"price":498},{"t":2014.876,"price":467},{"t":2014.939,"price":420},
{"t":2015.033,"price":353},{"t":2015.111,"price":312},{"t":2015.205,"price":294},{"t":2015.315,"price":266},{"t":2015.409,"price":254},{"t":2015.471,"price":244},{"t":2015.550,"price":256},{"t":2015.612,"price":260},{"t":2015.706,"price":240},{"t":2015.769,"price":244},{"t":2015.816,"price":270},{"t":2015.838,"price":305},{"t":2015.894,"price":301},{"t":2015.957,"price":344},
{"t":2016.019,"price":365},{"t":2016.098,"price":363},{"t":2016.160,"price":391},{"t":2016.239,"price":403},{"t":2016.317,"price":413},{"t":2016.396,"price":424},{"t":2016.433,"price":462},{"t":2016.464,"price":523},{"t":2016.552,"price":556},{"t":2016.646,"price":556},{"t":2016.709,"price":578},{"t":2016.787,"price":600},{"t":2016.866,"price":641},{"t":2016.960,"price":691},
{"t":2017.007,"price":759},{"t":2017.054,"price":774},{"t":2017.132,"price":866},{"t":2017.195,"price":967},{"t":2017.242,"price":946},{"t":2017.320,"price":1063},{"t":2017.361,"price":1240},{"t":2017.405,"price":1573},{"t":2017.445,"price":1839},{"t":2017.492,"price":1980},{"t":2017.555,"price":2075},{"t":2017.602,"price":2411},{"t":2017.649,"price":2939},{"t":2017.696,"price":3243},{"t":2017.743,"price":3324},{"t":2017.806,"price":3760},{"t":2017.869,"price":4471},{"t":2017.915,"price":5864},{"t":2017.947,"price":8276},{"t":2017.978,"price":9360},
{"t":2018.025,"price":10180},{"t":2018.103,"price":9980},{"t":2018.182,"price":10450},{"t":2018.276,"price":10180},{"t":2018.354,"price":10500},{"t":2018.417,"price":10330},{"t":2018.480,"price":9134},{"t":2018.542,"price":8150},{"t":2018.605,"price":7878},{"t":2018.699,"price":7140},{"t":2018.777,"price":7040},{"t":2018.871,"price":6560},{"t":2018.934,"price":5313},
{"t":2019.012,"price":4865},{"t":2019.106,"price":4410},{"t":2019.185,"price":4196},{"t":2019.247,"price":4092},{"t":2019.341,"price":4365},{"t":2019.366,"price":4940},{"t":2019.389,"price":5055},{"t":2019.436,"price":6005},{"t":2019.483,"price":7140},{"t":2019.530,"price":8070},{"t":2019.592,"price":8700},{"t":2019.671,"price":9240},{"t":2019.718,"price":9470},{"t":2019.796,"price":9300},{"t":2019.859,"price":9470},{"t":2019.921,"price":9140},
{"t":2020.015,"price":8484},{"t":2020.110,"price":8700},{"t":2020.172,"price":8785},{"t":2020.213,"price":7765},{"t":2020.298,"price":7500},{"t":2020.360,"price":8070},{"t":2020.454,"price":8484},{"t":2020.564,"price":8700},{"t":2020.611,"price":9360},{"t":2020.689,"price":9890},{"t":2020.799,"price":10450},{"t":2020.862,"price":11980},{"t":2020.940,"price":14600},{"t":2020.987,"price":17350},
{"t":2021.018,"price":22750},{"t":2021.081,"price":25700},{"t":2021.150,"price":32920},{"t":2021.222,"price":38160},{"t":2021.300,"price":43000},{"t":2021.363,"price":45600},{"t":2021.385,"price":44150},{"t":2021.457,"price":44250},{"t":2021.567,"price":44250},{"t":2021.692,"price":45600},{"t":2021.755,"price":43900},{"t":2021.818,"price":47600},{"t":2021.880,"price":51300},{"t":2021.974,"price":50700},
{"t":2022.100,"price":48000},{"t":2022.256,"price":46480},{"t":2022.335,"price":43000},{"t":2022.366,"price":39000},{"t":2022.444,"price":35830},{"t":2022.476,"price":31400},{"t":2022.538,"price":29100},{"t":2022.639,"price":27430},{"t":2022.726,"price":24300},{"t":2022.836,"price":21300},{"t":2022.883,"price":19620},{"t":2022.946,"price":18680},
{"t":2023.034,"price":18100},{"t":2023.074,"price":19200},{"t":2023.186,"price":19900},{"t":2023.297,"price":22500},{"t":2023.427,"price":25400},{"t":2023.520,"price":27700},{"t":2023.650,"price":28100},{"t":2023.799,"price":28000},{"t":2023.911,"price":31400},
{"t":2024.022,"price":36400},{"t":2024.134,"price":41900},{"t":2024.197,"price":52800},{"t":2024.282,"price":56600},{"t":2024.394,"price":60900},{"t":2024.505,"price":63300},{"t":2024.654,"price":63600},{"t":2024.821,"price":63300},{"t":2024.870,"price":67100},{"t":2024.933,"price":81900},
{"t":2025.007,"price":88200},{"t":2025.137,"price":90400},{"t":2025.286,"price":90400},{"t":2025.398,"price":96000},{"t":2025.528,"price":100900},{"t":2025.584,"price":106000},{"t":2025.732,"price":108700},{"t":2025.825,"price":111400},{"t":2025.900,"price":103600},
{"t":2026.067,"price":97300},{"t":2026.123,"price":90400},{"t":2026.290,"price":81900},{"t":2026.420,"price":76700},{"t":2026.495,"price":72844.5}
]
},
"resolve":{"scale":{"y":"independent"}},
"layer":[
{"layer":[
{"mark":{"type":"rule","color":"#f97316","strokeDash":[2,2],"strokeWidth":1},
 "encoding":{"y":{"datum":72844.5,"scale":{"type":"log","domain":[1.12,449000],"nice":false},
 "axis":{"orient":"left","labelPadding":9,"domain":true,"values":[440000,280000,170000,100000,39000,25000,16000,10000,6400,3900,2500,1600,1000,640,390,250,160,100,64,39,25,16,10,6,3.8,2.4,1.5],"format":"$,.2f"}}}},
{"mark":{"type":"text","text":"INVESTE MAIS","fontSize":68,"fontWeight":"bold","color":"#1f1113","align":"center","baseline":"middle"},
 "encoding":{"x":{"datum":2019.974},"y":{"datum":641}}},
{"mark":{"type":"rect","color":"#1f1113"},"encoding":{"x":{"datum":2017.004},"x2":{"datum":2017.117},"y":{"datum":745},"y2":{"datum":498}}},
{"mark":{"type":"rect","color":"#1f1113"},"encoding":{"x":{"datum":2017.164},"x2":{"datum":2017.277},"y":{"datum":874},"y2":{"datum":498}}},
{"mark":{"type":"rect","color":"#1f1113"},"encoding":{"x":{"datum":2017.333},"x2":{"datum":2017.474},"y":{"datum":1014},"y2":{"datum":498}}},
{"mark":{"type":"point","shape":"M-1,0A1,.3 0 1,0 1,0A1,.3 0 1,0 -1,0Z","size":8000,"filled":false,"color":"#1f1113","strokeWidth":4,"opacity":1},
 "encoding":{"x":{"datum":2017.3},"y":{"datum":553}}},
{"data":{"name":"btc"},"mark":{"type":"line","strokeWidth":2.3,"strokeJoin":"round"},
 "encoding":{"x":{"field":"t","type":"quantitative"},"y":{"field":"price","type":"quantitative"},
 "color":{"datum":"Bitcoin Price","scale":{"domain":["Bitcoin Price","↑ Above STH Realized Price","↓ Below STH Realized Price","Realized Price STH"],"range":["#ffffff","#22c55e","#ef4444","#f97316"]},
 "legend":{"orient":"none","legendX":492,"legendY":-36,"direction":"horizontal","columns":4,"title":null,"padding":0,"symbolType":"circle","symbolSize":100,"symbolStrokeWidth":0,"labelFont":"Liberation Sans","labelFontSize":14,"labelColor":"#ffffff","labelOffset":6,"columnPadding":18,"labelLimit":300,
 "encode":{"symbols":{"update":{"fill":{"scale":"color","field":"value"},"stroke":{"value":"transparent"},"opacity":{"value":1}}}}}}}}
]},
{"layer":[
{"mark":{"type":"rule","color":"#22c55e","strokeDash":[2,2],"strokeWidth":1},"encoding":{"y":{"datum":100,"scale":{"domain":[-124.1,290.3],"nice":false,"zero":false},
 "axis":{"orient":"right","labelPadding":10,"domain":true,"grid":true,"gridColor":"#282828","gridDash":[3,3],"gridWidth":1,"values":[-120,-100,-80,-60,-40,-20,0,20,40,60,80,100,120,140,160,180,200,220,240,260,280],"labelExpr":"replace(format(datum.value,'.1f'),',','.')"}}}},
{"mark":{"type":"rule","color":"#22c55e","strokeDash":[2,2],"strokeWidth":1},"encoding":{"y":{"datum":50}}},
{"mark":{"type":"rule","color":"#888888","strokeDash":[2,2],"strokeWidth":1},"encoding":{"y":{"datum":0}}},
{"mark":{"type":"rule","color":"#ef4444","strokeDash":[2,2],"strokeWidth":1},"encoding":{"y":{"datum":-40}}},
{"data":{"name":"hist"},
 "transform":[{"window":[{"op":"lead","field":"t","as":"t2"}],"sort":[{"field":"t"}]},{"filter":"datum.t2 != null && datum.dev >= 0"}],
 "mark":{"type":"rect","stroke":"#22c55e","strokeWidth":0.9},
 "encoding":{"x":{"field":"t","type":"quantitative","scale":{"domain":[2011.71,2027.666],"nice":false,"zero":false},
 "axis":{"orient":"bottom","values":[2012,2013,2014,2015,2016,2017,2018,2019,2020,2021,2022,2023,2024,2025,2026],"format":"d","labelPadding":9,"domain":true}},
 "x2":{"field":"t2"},"y":{"field":"dev","type":"quantitative"},"y2":{"datum":0},"color":{"datum":"↑ Above STH Realized Price"}}},
{"data":{"name":"hist"},
 "transform":[{"window":[{"op":"lead","field":"t","as":"t2"}],"sort":[{"field":"t"}]},{"filter":"datum.t2 != null && datum.dev < 0"}],
 "mark":{"type":"rect","stroke":"#ef4444","strokeWidth":0.9},
 "encoding":{"x":{"field":"t","type":"quantitative"},"x2":{"field":"t2"},"y":{"field":"dev","type":"quantitative"},"y2":{"datum":0},"color":{"datum":"↓ Below STH Realized Price"}}},
{"mark":{"type":"rect","color":"#22c55e"},"encoding":{"x":{"datum":2027.666},"x2":{"datum":2028.051},"y":{"datum":103.6},"y2":{"datum":95.6}}},
{"mark":{"type":"rect","color":"#22c55e"},"encoding":{"x":{"datum":2027.666},"x2":{"datum":2027.986},"y":{"datum":53.6},"y2":{"datum":45.6}}},
{"mark":{"type":"rect","color":"#6b7280"},"encoding":{"x":{"datum":2027.666},"x2":{"datum":2027.939},"y":{"datum":3.6},"y2":{"datum":-4.4}}},
{"mark":{"type":"rect","color":"#ef4444"},"encoding":{"x":{"datum":2027.666},"x2":{"datum":2028.023},"y":{"datum":-14.9},"y2":{"datum":-22.9}}},
{"mark":{"type":"rect","color":"#ef4444"},"encoding":{"x":{"datum":2027.666},"x2":{"datum":2028.023},"y":{"datum":-36.4},"y2":{"datum":-44.4}}},
{"mark":{"type":"text","text":"100.0","align":"left","baseline":"middle","dx":10,"dy":1,"fontSize":10,"fontWeight":"bold","color":"#ffffff"},"encoding":{"x":{"datum":2027.666},"y":{"datum":100}}},
{"mark":{"type":"text","text":"50.0","align":"left","baseline":"middle","dx":10,"dy":1,"fontSize":10,"fontWeight":"bold","color":"#ffffff"},"encoding":{"x":{"datum":2027.666},"y":{"datum":50}}},
{"mark":{"type":"text","text":"0.0","align":"left","baseline":"middle","dx":10,"dy":1,"fontSize":10,"fontWeight":"bold","color":"#ffffff"},"encoding":{"x":{"datum":2027.666},"y":{"datum":0}}},
{"mark":{"type":"text","text":"-18.6","align":"left","baseline":"middle","dx":10,"fontSize":10,"fontWeight":"bold","color":"#ffffff"},"encoding":{"x":{"datum":2027.666},"y":{"datum":-18.9}}},
{"mark":{"type":"text","text":"-40.0","align":"left","baseline":"middle","dx":10,"dy":1,"fontSize":10,"fontWeight":"bold","color":"#ffffff"},"encoding":{"x":{"datum":2027.666},"y":{"datum":-40}}},
{"mark":{"type":"text","text":"© INVESTEMAIS. All rights reserved.","align":"left","baseline":"middle","fontSize":14,"fontWeight":"bold","color":"#a5160f"},"encoding":{"x":{"datum":2025.842},"y":{"datum":-153}}},
{"mark":{"type":"text","text":"@ G a a h","align":"left","baseline":"middle","fontSize":23.5,"font":"Open Sans","color":"#d4d4d4"},"encoding":{"x":{"datum":2027.55},"y":{"datum":-159.5}}},
{"mark":{"type":"point","shape":"M0,-.25L.25,0L0,.25L-.25,0ZM-.92,0L-.72,-.2L-.52,0L-.72,.2ZM.52,0L.72,-.2L.92,0L.72,.2ZM0,-1L.55,-.45L.33,-.22L0,-.55L-.33,-.22L-.55,-.45ZM0,1L.55,.45L.33,.22L0,.55L-.33,.22L-.55,.45Z","size":784,"filled":true,"color":"#dcdcdc","opacity":1},"encoding":{"x":{"datum":2027.385},"y":{"datum":-159}}}
]},
{"layer":[
{"data":{"name":"realized"},"mark":{"type":"line","strokeWidth":1.8,"strokeJoin":"round"},
 "encoding":{"x":{"field":"t","type":"quantitative"},"y":{"field":"price","type":"quantitative","scale":{"type":"log","domain":[1.12,449000],"nice":false},"axis":null},"color":{"datum":"Realized Price STH"}}},
{"mark":{"type":"rect","color":"#f97316"},"encoding":{"x":{"datum":2011.09},"x2":{"datum":2011.71},"y":{"datum":84400},"y2":{"datum":65600}}},
{"mark":{"type":"rect","color":"#ffffff"},"encoding":{"x":{"datum":2011.09},"x2":{"datum":2011.71},"y":{"datum":65600},"y2":{"datum":51000}}},
{"mark":{"type":"text","text":"$72.844,50","align":"right","baseline":"middle","dx":-9,"dy":1,"fontSize":10,"fontWeight":"bold","color":"#ffffff"},"encoding":{"x":{"datum":2011.71},"y":{"datum":74400}}},
{"mark":{"type":"text","text":"$58.525,93","align":"right","baseline":"middle","dx":-9,"dy":1,"fontSize":10,"color":"#111111"},"encoding":{"x":{"datum":2011.71},"y":{"datum":57900}}}
]}
]
}
